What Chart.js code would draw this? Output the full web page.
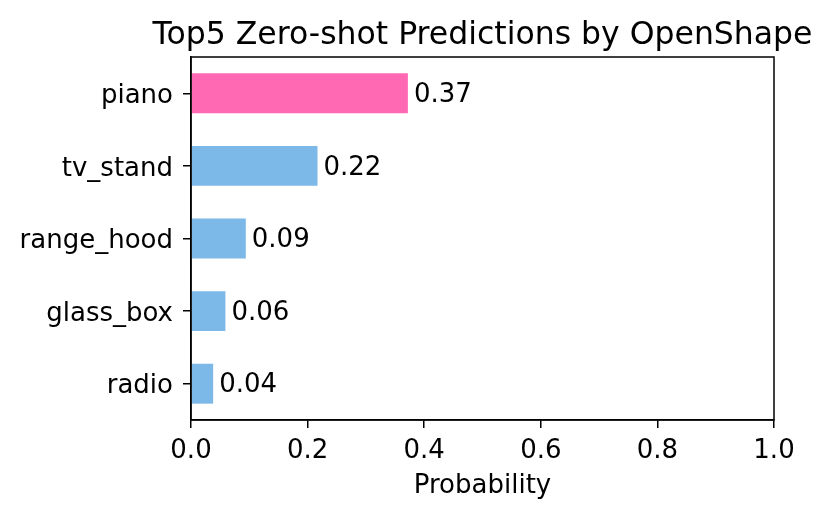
<!DOCTYPE html>
<html>
<head>
<meta charset="utf-8">
<script src="https://cdn.jsdelivr.net/npm/chart.js@4"></script>
<style>
  html, body { margin: 0; padding: 0; background: #ffffff; }
  #wrap { width: 830px; height: 518px; }
</style>
</head>
<body>
<div id="wrap"><canvas id="predChart" width="830" height="518"></canvas></div>
<script>
// Données du graphique
const categories = ['piano', 'tv_stand', 'range_hood', 'glass_box', 'radio'];
const probabilities = [0.372, 0.217, 0.094, 0.059, 0.038];
const barColors = ['#ff69b4', '#7db9e8', '#7db9e8', '#7db9e8', '#7db9e8'];
const xTicks = [0, 0.2, 0.4, 0.6, 0.8, 1.0];
const chartTitle = 'Top5 Zero-shot Predictions by OpenShape';
const xLabel = 'Probability';

const FONT = 'DejaVu Sans, sans-serif';

// Titre centré sur la zone de tracé + cadre complet + étiquettes de valeurs
const decorPlugin = {
  id: 'decor',
  afterDraw(chart) {
    const ctx = chart.ctx;
    const area = chart.chartArea;
    ctx.save();
    // cadre (spines)
    ctx.strokeStyle = '#000';
    ctx.lineWidth = 1.5;
    ctx.strokeRect(area.left, area.top, area.right - area.left, area.bottom - area.top);
    // titre
    ctx.fillStyle = '#000';
    ctx.font = '31.5px ' + FONT;
    ctx.textAlign = 'center';
    ctx.textBaseline = 'alphabetic';
    ctx.fillText(chartTitle, (area.left + area.right) / 2, 43.5);
    // valeurs à droite des barres
    ctx.font = '26px ' + FONT;
    ctx.textAlign = 'left';
    ctx.textBaseline = 'middle';
    const meta = chart.getDatasetMeta(0);
    meta.data.forEach((bar, i) => {
      ctx.fillText(probabilities[i].toFixed(2), bar.x + 6, bar.y + 2);
    });
    ctx.restore();
  }
};

const config = {
  type: 'bar',
  data: {
    labels: categories,
    datasets: [{
      data: probabilities,
      backgroundColor: barColors,
      borderWidth: 0,
      barPercentage: 0.55,
      categoryPercentage: 1.0
    }]
  },
  options: {
    indexAxis: 'y',
    responsive: false,
    animation: false,
    devicePixelRatio: 1,
    layout: { padding: { top: 57, right: 56, left: 0, bottom: 0 } },
    plugins: {
      legend: { display: false },
      tooltip: { enabled: false },
      title: { display: false }
    },
    scales: {
      x: {
        min: 0,
        max: 1,
        afterBuildTicks(scale) {
          scale.ticks = xTicks.map(v => ({ value: v }));
        },
        afterFit(scale) { scale.height = 98; },
        ticks: {
          color: '#000',
          font: { family: FONT, size: 26 },
          padding: 8,
          maxRotation: 0,
          callback: v => Number(v).toFixed(1)
        },
        grid: { display: true, drawOnChartArea: false, drawTicks: true, tickLength: 8, color: '#000', lineWidth: 1.5 },
        border: { display: true, color: '#000', width: 1.5 },
        title: {
          display: true,
          text: xLabel,
          color: '#000',
          font: { family: FONT, size: 26 },
          padding: { top: 0, bottom: 16 }
        }
      },
      y: {
        afterFit(scale) { scale.width = 191; },
        ticks: {
          color: '#000',
          font: { family: FONT, size: 26 },
          padding: 10,
          labelOffset: 3
        },
        grid: { display: true, offset: false, drawOnChartArea: false, drawTicks: true, tickLength: 8, color: '#000', lineWidth: 1.5 },
        border: { display: true, color: '#000', width: 1.5 }
      }
    }
  },
  plugins: [decorPlugin]
};

new Chart(document.getElementById('predChart'), config);
</script>
</body>
</html>
